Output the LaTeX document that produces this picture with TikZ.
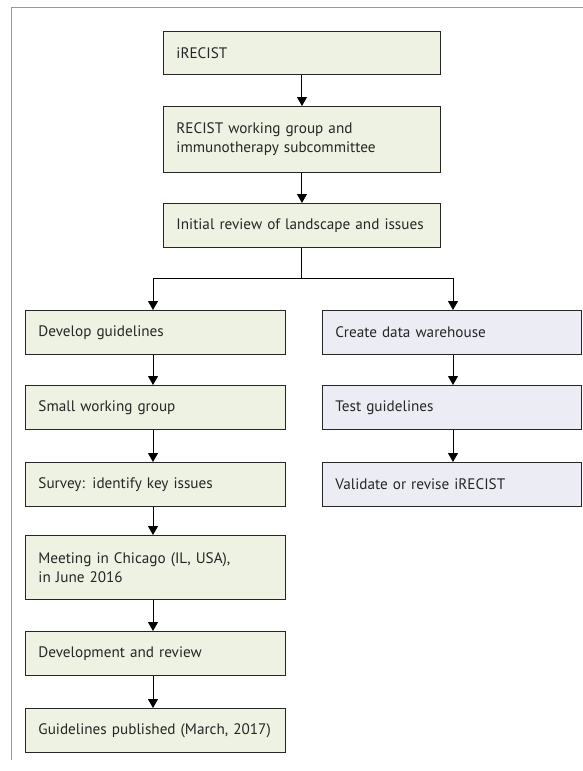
\documentclass[tikz,border=0pt]{standalone}
\usepackage{fontspec}
\setmainfont{PT Sans}
\usetikzlibrary{arrows.meta}
\definecolor{greenfill}{RGB}{237,242,226}
\definecolor{lilacfill}{RGB}{236,236,244}
\definecolor{framecol}{RGB}{110,170,160}
\tikzset{
  stepbox/.style={draw=black!85, line width=0.9pt, fill=greenfill, anchor=north west,
    inner xsep=13pt, align=left, text=black!85, font=\fontsize{15.2}{19}\selectfont},
  lilacbox/.style={stepbox, fill=lilacfill},
  flow/.style={-{Triangle[width=10pt,length=9pt]}, line width=1pt}
}
\begin{document}
\begin{tikzpicture}[x=1pt,y=-1pt]
\useasboundingbox (0,0) rectangle (583,771);
% frame
\draw[framecol, line width=1pt] (11,760) -- (11,7) -- (583,7);
% top column
\node[stepbox, text width=251pt, minimum height=43pt] (irecist) at (163,31) {iRECIST};
\node[stepbox, text width=251pt, minimum height=66pt] (group) at (163,106) {RECIST working group and\\immunotherapy subcommittee};
\node[stepbox, text width=251pt, minimum height=44pt] (review) at (163,203) {Initial review of landscape and issues};
% left column
\node[stepbox, text width=234pt, minimum height=44pt] (develop) at (25,310) {Develop guidelines};
\node[stepbox, text width=234pt, minimum height=44pt] (small) at (25,385) {Small working group};
\node[stepbox, text width=234pt, minimum height=44pt] (survey) at (25,462) {Survey: identify key issues};
\node[stepbox, text width=234pt, minimum height=64pt] (meeting) at (25,535) {Meeting in Chicago (IL, USA),\\in June 2016};
\node[stepbox, text width=234pt, minimum height=44pt] (devrev) at (25,631) {Development and review};
\node[stepbox, text width=234pt, minimum height=44pt] (published) at (25,708) {Guidelines published (March, 2017)};
% right column
\node[lilacbox, text width=233pt, minimum height=44pt] (warehouse) at (322,310) {Create data warehouse};
\node[lilacbox, text width=233pt, minimum height=44pt] (test) at (322,385) {Test guidelines};
\node[lilacbox, text width=233pt, minimum height=44pt] (validate) at (322,462) {Validate or revise iRECIST};
% arrows
\draw[flow] (irecist) -- (group);
\draw[flow] (group) -- (review);
\coordinate (split) at (review.south |- 0,278);
\draw[line width=1pt] (review) -- (split);
\draw[flow] (split) -| (develop.north -| 153,0);
\draw[flow] (split) -| (warehouse.north -| 453,0);
\draw[flow] (develop.south -| 153,0) -- (small.north -| 153,0);
\draw[flow] (small.south -| 153,0) -- (survey.north -| 153,0);
\draw[flow] (survey.south -| 153,0) -- (meeting.north -| 153,0);
\draw[flow] (meeting.south -| 153,0) -- (devrev.north -| 153,0);
\draw[flow] (devrev.south -| 153,0) -- (published.north -| 153,0);
\draw[flow] (warehouse.south -| 453,0) -- (test.north -| 453,0);
\draw[flow] (test.south -| 453,0) -- (validate.north -| 453,0);
\end{tikzpicture}
\end{document}
